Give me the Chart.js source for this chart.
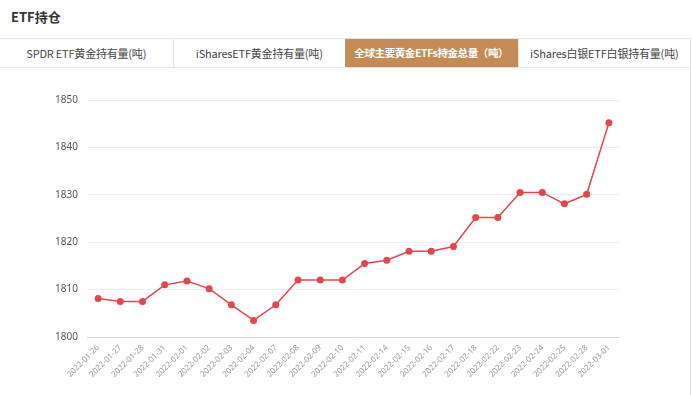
<!DOCTYPE html>
<html>
<head>
<meta charset="utf-8">
<script src="https://cdn.jsdelivr.net/npm/chart.js@4/dist/chart.umd.min.js"></script>
<style>
  body { margin: 0; background: #fff; font-family: "Noto Sans CJK SC", "Noto Sans", sans-serif; }
  .page { position: relative; width: 692px; height: 395px; overflow: hidden; }
  .title { position: absolute; left: 11px; top: 7px; font-size: 13px; font-weight: bold; color: #333; }
  .box { position: absolute; left: 0; top: 38px; width: 690px; height: 357px; border-right: 1px solid #e6e6e6; }
  .tabs { position: absolute; left: 0; top: 0; width: 690px; height: 28px; border-top: 1px solid #e4e4e4; border-bottom: 1px solid #e4e4e4; display: flex; }
  .tab { width: 172.5px; text-align: center; line-height: 28px; font-size: 11px; letter-spacing: -0.2px; color: #444; border-left: 1px solid #e4e4e4; box-sizing: border-box; white-space: nowrap; }
  .tab:first-child { border-left: none; }
  .tab.active { background: #c38b55; color: #fff; font-weight: bold; border-left: none; font-size: 10.5px; letter-spacing: -0.4px; }
  .chart { position: absolute; left: 0; top: 37px; width: 690px; height: 320px; }
</style>
</head>
<body>
<div class="page">
  <div class="title">ETF持仓</div>
  <div class="box">
    <div class="tabs">
      <div class="tab">SPDR ETF黄金持有量(吨)</div>
      <div class="tab">iSharesETF黄金持有量(吨)</div>
      <div class="tab active">全球主要黄金ETFs持金总量（吨）</div>
      <div class="tab">iShares白银ETF白银持有量(吨)</div>
    </div>
    <div class="chart"><canvas id="myChart"></canvas></div>
  </div>
</div>
<script>
// Chart data
const dates = [
  "2022-01-26", "2022-01-27", "2022-01-28", "2022-01-31", "2022-02-01", "2022-02-02",
  "2022-02-03", "2022-02-04", "2022-02-07", "2022-02-08", "2022-02-09", "2022-02-10",
  "2022-02-11", "2022-02-14", "2022-02-15", "2022-02-16", "2022-02-17", "2022-02-18",
  "2022-02-22", "2022-02-23", "2022-02-24", "2022-02-25", "2022-02-28", "2022-03-01"
];
const holdings = [
  1808.1, 1807.5, 1807.5, 1811.0, 1811.8, 1810.2,
  1806.8, 1803.5, 1806.8, 1812.0, 1812.0, 1812.0,
  1815.5, 1816.2, 1818.1, 1818.1, 1819.1, 1825.2,
  1825.2, 1830.5, 1830.5, 1828.1, 1830.1, 1845.2
];
const yTicks = [1800, 1810, 1820, 1830, 1840, 1850];

const red = "#e2474f";
var ctx = document.getElementById("myChart");

var myChart = new Chart(ctx, {
  type: "line",
  data: {
    labels: dates,
    datasets: [
      {
        label: "全球主要黄金ETFs持金总量",
        data: holdings,
        borderColor: red,
        backgroundColor: red,
        borderWidth: 1.5,
        pointRadius: 3.5,
        pointHoverRadius: 4,
        pointBorderWidth: 0,
        tension: 0,
      },
    ],
  },
  options: {
    responsive: true,
    maintainAspectRatio: false,
    animation: false,
    layout: { padding: { top: 25, right: 70, left: 0, bottom: 0 } },
    plugins: { legend: { display: false }, tooltip: { enabled: false } },
    scales: {
      x: {
        offset: true,
        grid: { display: false, drawTicks: false },
        border: { display: false },
        ticks: {
          autoSkip: false,
          maxRotation: 45,
          minRotation: 45,
          padding: 6,
          color: "#9a9a9a",
          font: { size: 8, family: "Noto Sans, sans-serif" },
        },
        afterFit: (scale) => { scale.height = 58; },
      },
      y: {
        min: 1800,
        max: 1850,
        afterBuildTicks: (scale) => { scale.ticks = yTicks.map((v) => ({ value: v })); },
        grid: {
          drawTicks: false,
          color: (c) => (c.tick && c.tick.value === 1800 ? "#d5d8e4" : "#eeeeee"),
        },
        border: { display: false },
        ticks: {
          padding: 9,
          color: "#555",
          font: { size: 10, family: "Noto Sans, sans-serif" },
          callback: (v) => String(v),
        },
        afterFit: (scale) => { scale.width = 87; },
      },
    },
  },
});
</script>
</body>
</html>
